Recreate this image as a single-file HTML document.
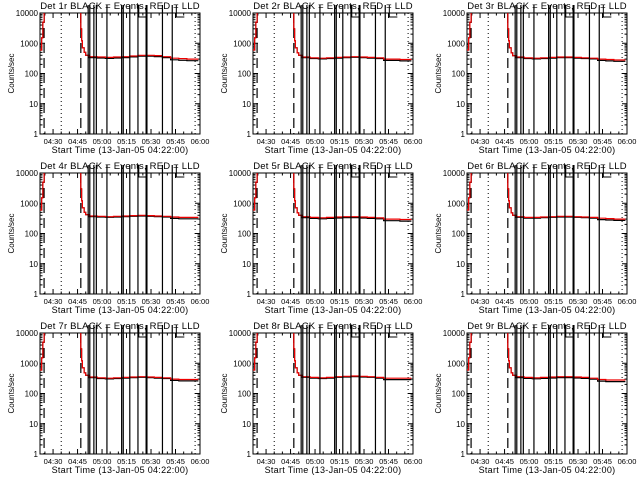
<!DOCTYPE html>
<html><head><meta charset="utf-8"><style>
html,body{margin:0;padding:0;background:#fff;}
svg{display:block;font-family:"Liberation Sans",sans-serif;}
</style></head><body>
<svg id="chart" width="640" height="480" viewBox="0 0 640 480" xmlns="http://www.w3.org/2000/svg"></svg>
<script>
// ---- data ----
const detectors = ["Det 1r","Det 2r","Det 3r","Det 4r","Det 5r","Det 6r","Det 7r","Det 8r","Det 9r"];
const xTickLabels = ["04:30","04:45","05:00","05:15","05:30","05:45","06:00"];
const xTickMinutes = [8,23,38,53,68,83,98];
const yTickLabels = ["1","10","100","1000","10000"];
const yTickValues = [1,10,100,1000,10000];
// times (minutes after 04:22:00) for rise and decay segments
const riseTimes = [0,1,1.8,2.5];
const riseRed = [600,1500,5000,12000];
const decayTimes = [24.5,25,25.5,26,27,28,30,35,40,45,50,55,60,65,70,75,80,85,90,97];
const redLevels = [
 [12000,3000,1200,700,500,400,360,350,340,350,360,380,400,400,390,360,320,310,300,300],
 [12000,3000,1200,700,480,400,350,330,320,330,340,350,360,350,340,330,300,300,290,290],
 [12000,3000,1200,700,480,390,350,330,320,330,340,350,350,340,330,320,300,290,280,280],
 [12000,3000,1200,700,500,420,380,370,360,370,380,390,400,390,380,370,350,340,340,340],
 [12000,3000,1200,700,480,400,360,340,330,340,350,360,360,350,340,330,300,300,290,290],
 [12000,3000,1200,700,480,400,360,340,340,350,360,370,370,360,350,340,320,310,300,300],
 [12000,3000,1200,700,480,400,350,330,320,330,340,350,360,350,340,330,300,290,290,290],
 [12000,3000,1200,700,480,400,360,340,330,340,360,370,380,370,360,340,320,320,320,320],
 [12000,3000,1200,700,480,400,360,340,330,340,350,360,360,350,340,320,290,280,280,280]
];
const blackOffsets = [0.93,0.95,0.95,0.95,0.93,0.95,0.95,0.95,0.93];
const solidLines = [29.5,30.5,33,34.5,41,50,51,55,60,65,65.5,75,81];
const stubLines = [60.5,83.5];
const dashedLines = [2.5,25];
const dottedLines = [13,95];

// ---- layout ----
const svg = document.getElementById('chart');
const NS = 'http://www.w3.org/2000/svg';
const W = 160, H = 121, T0 = 0, T1 = 98;
function mk(tag, attrs, parent){
  const e = document.createElementNS(NS, tag);
  for (const k in attrs) e.setAttribute(k, attrs[k]);
  (parent||svg).appendChild(e);
  return e;
}
detectors.forEach((name, i) => {
  const col = i % 3, row = Math.floor(i / 3);
  const L = Math.round(40 + 213.3 * col), Tp = 13 + 160 * row;
  const xs = t => L + (t - T0) / (T1 - T0) * W;
  const ys = v => Tp + H - Math.log10(v) / 4 * H;
  const g = mk('g', {});
  
  
  const clipId = 'clip' + i;
  const cp = mk('clipPath', {id: clipId}, g);
  mk('rect', {x: L, y: Tp, width: W, height: H}, cp);
  // title
  const title = mk('text', {x: L + W/2, y: Tp - 4, 'font-size': 9.5, 'text-anchor': 'middle', 'letter-spacing': '0.2'}, g);
  title.textContent = name + " BLACK = Events, RED = LLD";
  
  
  // y title
  const yt = mk('text', {x: 0, y: 0, 'font-size': 8, 'text-anchor': 'middle', transform: `translate(${L-26},${Tp+H/2}) rotate(-90)`}, g);
  yt.textContent = "Counts/sec";
  
  
  // x title
  const xt = mk('text', {x: L + W/2, y: Tp + H + 19, 'font-size': 9, 'text-anchor': 'middle', 'letter-spacing': '0.3'}, g);
  xt.textContent = "Start Time (13-Jan-05 04:22:00)";
  
  
  // axis box
  const box = mk('rect', {x: L, y: Tp, width: W, height: H, fill: 'none', stroke: '#000', 'stroke-width': 1}, g);
  
  
  // y ticks
  yTickValues.forEach((v, k) => {
    const y = ys(v);
    mk('line', {x1: L, x2: L+5, y1: y, y2: y, stroke: '#000'}, g);
    mk('line', {x1: L+W-5, x2: L+W, y1: y, y2: y, stroke: '#000'}, g);
    if (k < 4) for (let m = 2; m <= 9; m++) {
      const ym = ys(v*m);
      mk('line', {x1: L, x2: L+2.5, y1: ym, y2: ym, stroke: '#000'}, g);
      mk('line', {x1: L+W-2.5, x2: L+W, y1: ym, y2: ym, stroke: '#000'}, g);
    }
    const tl = mk('text', {x: L-2, y: y+3, 'font-size': 8, 'text-anchor': 'end'}, g);
    tl.textContent = yTickLabels[k];
    
    
  });
  // x ticks
  xTickMinutes.forEach((t, k) => {
    const x = xs(t);
    mk('line', {x1: x, x2: x, y1: Tp+H, y2: Tp+H-5, stroke: '#000'}, g);
    mk('line', {x1: x, x2: x, y1: Tp, y2: Tp+5, stroke: '#000'}, g);
    for (let m = 5; m < 15; m += 5) {
      const xm = xs(t - m);
      if (xm > L) { mk('line', {x1: xm, x2: xm, y1: Tp+H, y2: Tp+H-2.5, stroke: '#000'}, g); mk('line', {x1: xm, x2: xm, y1: Tp, y2: Tp+2.5, stroke: '#000'}, g); }
    }
    const tl = mk('text', {x: x, y: Tp+H+10, 'font-size': 7.5, 'text-anchor': 'middle'}, g);
    tl.textContent = xTickLabels[k];
    
    
  });
  const inner = mk('g', {'clip-path': `url(#${clipId})`}, g);
  dottedLines.forEach(t => {
    const l = mk('line', {x1: xs(t), x2: xs(t), y1: Tp, y2: Tp+H, stroke: '#000', 'stroke-dasharray': '1,3'}, inner);
    
    
  });
  dashedLines.forEach(t => {
    const l = mk('line', {x1: xs(t), x2: xs(t), y1: Tp, y2: Tp+H, stroke: '#000', 'stroke-width': 1.2, 'stroke-dasharray': '10,5'}, inner);
    
    
  });
  solidLines.forEach(t => {
    const l = mk('line', {x1: xs(t), x2: xs(t), y1: Tp-8, y2: Tp+H, stroke: '#000', 'stroke-width': 1.2}, g);
    
    
  });
  stubLines.forEach(t => {
    const p = mk('path', {d: `M${xs(t)},${Tp-8} V${Tp+4} H${xs(t)+8}`, fill: 'none', stroke: '#000'}, g);
    
    
  });
  // series
  const redVals = redLevels[i];
  const blackPts = decayTimes.map((t, k) => [xs(t), ys(k < 6 ? redVals[k] : redVals[k] * (t > 75 ? blackOffsets[i]*0.95 : blackOffsets[i]))]);
  const redPts = decayTimes.map((t, k) => [xs(t), ys(redVals[k])]);
  const risePts = riseTimes.map((t, k) => [xs(t), ys(riseRed[k])]);
  const step = pts => pts.map((p, k) => (k ? `H${p[0].toFixed(1)} V${p[1].toFixed(1)}` : `M${p[0].toFixed(1)},${p[1].toFixed(1)}`)).join(' ');
  const bl = mk('path', {d: step(risePts) + ' ' + step(blackPts), fill: 'none', stroke: '#000', 'stroke-width': 1.2}, inner);
  
  
  const rd = mk('path', {d: step(risePts) + ' ' + step(redPts), fill: 'none', stroke: '#e00', 'stroke-width': 1.2}, inner);
  
  
});
</script>
</body></html>
